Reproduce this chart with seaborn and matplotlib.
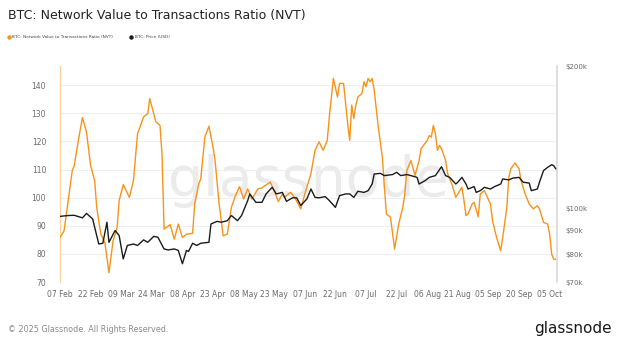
import numpy as np
import pandas as pd
import matplotlib
matplotlib.use("Agg")
import matplotlib.pyplot as plt
from matplotlib.lines import Line2D
from matplotlib.ticker import FixedLocator, NullLocator
import seaborn as sns

# ---------------- data ----------------
start_date = "2025-02-07"
nvt_days = [0, 2, 4, 6, 7, 9, 11, 13, 15, 17, 18, 20, 22, 24, 26, 28, 29, 31, 34, 36,
            38, 41, 43, 44, 47, 49, 50, 51, 54, 56, 58, 60, 62, 65, 66, 68, 69, 71, 73, 75,
            76, 78, 80, 82, 84, 86, 88, 90, 92, 94, 97, 99, 103, 105, 107, 109, 110, 113, 115, 118,
            120, 123, 125, 127, 129, 131, 132, 134, 136, 137, 139, 141, 142, 143, 144, 145, 146, 148, 149, 150,
            151, 152, 153, 154, 156, 158, 159, 160, 162, 164, 166, 168, 169, 170, 172, 174, 176, 177, 180, 181,
            182, 183, 184, 185, 186, 187, 189, 190, 192, 194, 195, 197, 198, 199, 200, 202, 203, 205, 206, 208,
            211, 212, 214, 216, 217, 219, 220, 221, 223, 225, 226, 228, 230, 232, 234, 235, 237, 239, 240, 241,
            242, 243]
nvt_values = [85.8, 88.2, 99, 109.6, 111.4, 120.4, 128.5, 123.3, 111.4, 106, 96.5, 87, 84, 73.3, 84.6, 89.4, 99, 104.6, 100.1, 106,
              122.7, 128.7, 129.9, 135.2, 126.9, 125.7, 115.6, 88.8, 90.4, 85.2, 90.6, 85.8, 87, 87.3, 97.7, 104.9, 106.7, 121.5, 125.4, 118,
              113.2, 97.7, 86.4, 87, 96.5, 100.7, 103.9, 99.5, 103.1, 99.5, 103.1, 103.5, 105.5, 102.5, 98.6, 101.3, 100.1, 101.9, 100.1, 96,
              101.3, 108.5, 116.8, 119.8, 116.8, 120.4, 128.7, 142.4, 135.8, 140.6, 140.6, 126.3, 120.4, 132.9, 128.1, 132.9, 135.8, 137, 141.2, 139.4,
              142.4, 141.2, 142.4, 138.2, 125.1, 114.4, 103.7, 94.2, 93, 81.7, 90.6, 96.5, 101.3, 109.6, 113.2, 107.9, 113.2, 117.4, 120.4, 122.1,
              121.5, 125.7, 122.7, 116.8, 118.6, 117.4, 113.2, 108.5, 104.9, 100.1, 101.3, 103.7, 99, 93.6, 94.2, 97.7, 98.3, 93.2, 101.3, 102.5,
              97.7, 91.8, 85.8, 81.1, 85.8, 96.5, 107.3, 110.3, 112.3, 110.3, 106, 101.3, 97.7, 96, 97.1, 96, 91.2, 90.6, 87, 79.9,
              78.1, 78.1]

price_days = [0, 4, 7, 11, 13, 16, 17, 19, 21, 23, 24, 27, 29, 31, 33, 36, 38, 41, 43, 46,
              48, 51, 53, 56, 58, 60, 62, 63, 65, 67, 69, 73, 74, 77, 79, 82, 84, 87, 89, 92,
              93, 96, 99, 101, 104, 106, 109, 111, 114, 116, 118, 121, 123, 125, 127, 130, 132, 135, 137, 140,
              142, 144, 146, 149, 151, 153, 154, 157, 159, 163, 165, 167, 170, 172, 175, 176, 179, 181, 184, 185,
              187, 189, 191, 194, 195, 197, 199, 200, 203, 204, 206, 208, 211, 213, 216, 217, 220, 222, 225, 227,
              230, 231, 234, 235, 237, 239, 241, 242, 243]
price_k = [96.3, 96.7, 96.8, 95.6, 97.7, 95.1, 91.3, 84.2, 84.5, 93.6, 84.9, 89.9, 87.7, 78.3, 83.6, 84.2, 83.6, 85.9, 84.9, 87.4,
           87.0, 82.2, 81.8, 82.2, 81.6, 76.5, 81.6, 81.2, 84.5, 83.6, 84.5, 84.9, 92.8, 94.0, 93.6, 94.3, 96.7, 94.3, 96.7, 104.0,
           107.4, 103.1, 103.1, 107.4, 110.9, 107.4, 108.2, 103.6, 105.4, 105.4, 101.5, 104.8, 110.0, 105.6, 105.4, 106.0, 104.0, 100.6, 106.5, 107.4,
           107.4, 105.6, 108.8, 108.2, 109.1, 112.7, 118.3, 118.7, 117.4, 118, 119.3, 117.4, 118, 117.4, 116.4, 112.7, 114.6, 116.4, 117.4, 119.1,
           122.6, 117.4, 116.4, 112.7, 113.7, 116.4, 112.7, 110, 111.3, 108.2, 109.1, 110.9, 110, 111.3, 112.7, 115.5, 115, 116, 116.4, 113.7,
           113.2, 109.1, 110, 113.7, 120.3, 122.2, 123.8, 123.2, 121.3]

x_tick_labels = ["07 Feb", "22 Feb", "09 Mar", "24 Mar", "08 Apr", "23 Apr", "08 May", "23 May", "07 Jun",
                 "22 Jun", "07 Jul", "22 Jul", "06 Aug", "21 Aug", "05 Sep", "20 Sep", "05 Oct"]
left_ticks = [70, 80, 90, 100, 110, 120, 130, 140]
right_ticks = [70000, 80000, 90000, 100000, 200000]
right_tick_labels = ["$70k", "$80k", "$90k", "$100k", "$200k"]

# ---------------- build frames ----------------
base = pd.Timestamp(start_date)
nvt_df = pd.DataFrame({"date": base + pd.to_timedelta(nvt_days, unit="D"), "nvt": nvt_values})
price_df = pd.DataFrame({"date": base + pd.to_timedelta(price_days, unit="D"),
                         "price": np.array(price_k) * 1000})

ORANGE = "#f7931a"
BLACK = "#1b1b1b"
GRID = "#efefef"
TXT = "#6b6b6b"

sns.set_theme(style="white")
plt.rcParams["font.family"] = ["DejaVu Sans"]

fig = plt.figure(figsize=(6.2, 3.44), dpi=100)
ax = fig.add_axes([60 / 620, 1 - 282 / 344, (557 - 60) / 620, (282 - 66) / 344])
ax2 = ax.twinx()

# watermark
fig.text(0.497, 0.475, "glassnode", fontsize=40, color="#ebebeb", ha="center", va="center",
         zorder=0)

sns.lineplot(data=nvt_df, x="date", y="nvt", ax=ax, color=ORANGE, linewidth=1.0,
             estimator=None, zorder=3)
sns.lineplot(data=price_df, x="date", y="price", ax=ax2, color=BLACK, linewidth=1.0,
             estimator=None, zorder=3)

ax.patch.set_visible(False)
ax2.patch.set_visible(False)
ax.set_zorder(2)
ax2.set_zorder(3)

xmin = base
xmax = base + pd.Timedelta(days=243.6)
ax.set_xlim(xmin, xmax)

# left axis
ax.set_ylim(70, 146.8)
ax.yaxis.set_major_locator(FixedLocator(left_ticks))
ax.set_yticklabels([str(t) for t in left_ticks])
ax.grid(axis="y", color=GRID, linewidth=0.8)
ax.grid(axis="x", visible=False)
ax.tick_params(axis="y", length=0, pad=10, labelsize=5.5, labelcolor=TXT)

# x axis
xt = [base + pd.Timedelta(days=15 * i) for i in range(len(x_tick_labels))]
ax.set_xticks(xt)
ax.set_xticklabels(x_tick_labels)
ax.tick_params(axis="x", length=3, width=0.5, color="#d8d8d8", pad=2.5, labelsize=5.5, labelcolor=TXT)
ax.set_xlabel("")
ax.set_ylabel("")

# right axis (log)
ax2.set_yscale("log")
ax2.set_ylim(70000, 200000)
ax2.yaxis.set_major_locator(FixedLocator(right_ticks))
ax2.yaxis.set_minor_locator(NullLocator())
ax2.set_yticklabels(right_tick_labels)
ax2.tick_params(axis="y", length=0, pad=6, labelsize=5.0, labelcolor=TXT)
ax2.set_ylabel("")
ax2.grid(False)

for a in (ax, ax2):
    for s in a.spines.values():
        s.set_visible(False)
ax.spines["left"].set_visible(True)
ax.spines["left"].set_color("#fbd3a3")
ax.spines["left"].set_linewidth(0.8)
ax2.spines["right"].set_visible(True)
ax2.spines["right"].set_color("#d9d9d9")
ax2.spines["right"].set_linewidth(1.2)

# title
fig.text(8 / 620, 1 - 15 / 344, "BTC: Network Value to Transactions Ratio (NVT)",
         fontsize=9, color="#222222", ha="left", va="center")

# legend
handles = [Line2D([0], [0], marker="o", color="none", markerfacecolor=ORANGE, markeredgecolor=ORANGE,
                  markersize=2.2, label="BTC: Network Value to Transactions Ratio (NVT)"),
           Line2D([0], [0], marker="o", color="none", markerfacecolor=BLACK, markeredgecolor=BLACK,
                  markersize=2.2, label="BTC: Price (USD)")]
fig.legend(handles=handles, loc="center left", bbox_to_anchor=(7 / 620, 1 - 37 / 344), ncol=2,
           frameon=False, fontsize=3.1, handlelength=0.8, handletextpad=0.4, columnspacing=3.8,
           labelcolor="#444444", borderpad=0, borderaxespad=0)

# footer
fig.text(8 / 620, 1 - 330 / 344, "© 2025 Glassnode. All Rights Reserved.", fontsize=5.8,
         color="#8a8a8a", ha="left", va="center")
fig.text(612 / 620, 1 - 329 / 344, "glassnode", fontsize=11, color="#1a1a1a", ha="right", va="center")

fig.savefig("out.png", dpi=100)
